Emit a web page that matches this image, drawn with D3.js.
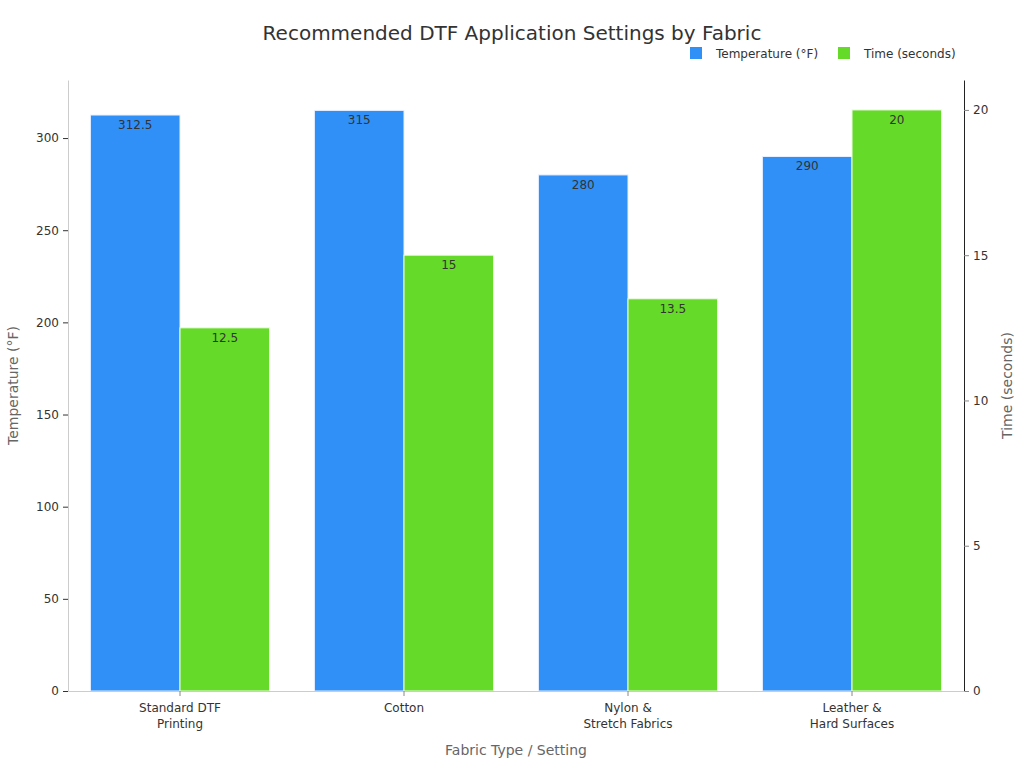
<!DOCTYPE html>
<html>
<head>
<meta charset="utf-8">
<title>Recommended DTF Application Settings by Fabric</title>
<script src="https://cdnjs.cloudflare.com/ajax/libs/d3/7.8.5/d3.min.js"></script>
<style>
  body { margin: 0; background: #fff; font-family: "DejaVu Sans", sans-serif; }
</style>
</head>
<body>
<div class="chart"></div>
<script>
var categories = [["Standard DTF", "Printing"], ["Cotton"], ["Nylon &", "Stretch Fabrics"], ["Leather &", "Hard Surfaces"]];
var temperature = [312.5, 315, 280, 290];
var timeSec = [12.5, 15, 13.5, 20];
var tempTicks = [0, 50, 100, 150, 200, 250, 300];
var timeTicks = [0, 5, 10, 15, 20];

var W = 1024, H = 768;
var mLeft = 68, mRight = 964, mTop = 80, mBottom = 691;
var blue = "#3090f8", green = "#66da28";

var svg = d3.select(".chart").append("svg").attr("width", W).attr("height", H);

var x0 = d3.scaleBand().domain(d3.range(categories.length)).range([mLeft, mRight])
  .paddingInner(0.2).paddingOuter(0.1);
var x1 = d3.scaleBand().domain([0, 1]).range([0, x0.bandwidth()]);
var yL = d3.scaleLinear().domain([0, 331.5]).range([mBottom, mTop]);
var yR = d3.scaleLinear().domain([0, 21.03]).range([mBottom, mTop]);

// bars
var groups = svg.selectAll(".grp").data(categories).enter().append("g")
  .attr("transform", function(d, i){ return "translate(" + x0(i) + ",0)"; });

groups.append("rect")
  .attr("x", x1(0)).attr("width", x1.bandwidth())
  .attr("y", function(d, i){ return yL(temperature[i]); })
  .attr("height", function(d, i){ return mBottom - yL(temperature[i]); })
  .attr("fill", blue).attr("stroke", "#e8f0ff").attr("stroke-width", 1);

groups.append("rect")
  .attr("x", x1(1)).attr("width", x1.bandwidth())
  .attr("y", function(d, i){ return yR(timeSec[i]); })
  .attr("height", function(d, i){ return mBottom - yR(timeSec[i]); })
  .attr("fill", green).attr("stroke", "#eefae6").attr("stroke-width", 1);

groups.append("text")
  .attr("x", x1(0) + x1.bandwidth() / 2)
  .attr("y", function(d, i){ return yL(temperature[i]) + 14; })
  .attr("text-anchor", "middle").attr("font-size", 12).attr("fill", "#333")
  .text(function(d, i){ return temperature[i]; });

groups.append("text")
  .attr("x", x1(1) + x1.bandwidth() / 2)
  .attr("y", function(d, i){ return yR(timeSec[i]) + 14; })
  .attr("text-anchor", "middle").attr("font-size", 12).attr("fill", "#333")
  .text(function(d, i){ return timeSec[i]; });

// axes
var axL = svg.append("g").attr("transform", "translate(" + mLeft + ",0)")
  .call(d3.axisLeft(yL).tickValues(tempTicks).tickSize(5).tickSizeOuter(0).tickPadding(4));
axL.select(".domain").attr("stroke", "#ccc");
axL.selectAll(".tick line").attr("stroke", "#333");
axL.selectAll(".tick text").attr("font-size", 12).attr("fill", "#333").attr("font-family", "DejaVu Sans");

var axR = svg.append("g").attr("transform", "translate(" + mRight + ",0)")
  .call(d3.axisRight(yR).tickValues(timeTicks).tickSize(5).tickSizeOuter(0).tickPadding(4));
axR.select(".domain").attr("stroke", "#222");
axR.selectAll(".tick line").attr("stroke", "#888");
axR.selectAll(".tick text").attr("font-size", 12).attr("fill", "#333").attr("font-family", "DejaVu Sans");

var axB = svg.append("g").attr("transform", "translate(0," + mBottom + ")")
  .call(d3.axisBottom(x0).tickSize(5).tickSizeOuter(0).tickFormat(""));
axB.select(".domain").attr("stroke", "#ccc");
axB.selectAll(".tick line").attr("stroke", "#888");
axB.selectAll(".tick").each(function(d){
  var t = d3.select(this).append("text").attr("text-anchor", "middle")
    .attr("font-size", 12).attr("fill", "#333").attr("font-family", "DejaVu Sans");
  categories[d].forEach(function(line, k){
    t.append("tspan").attr("x", 0).attr("y", 21 + k * 16).text(line);
  });
});

// titles
svg.append("text").attr("x", 512).attr("y", 40).attr("text-anchor", "middle")
  .attr("font-size", 20).attr("fill", "#333").text("Recommended DTF Application Settings by Fabric");

svg.append("text").attr("x", 516).attr("y", 755).attr("text-anchor", "middle")
  .attr("font-size", 14).attr("fill", "#666").text("Fabric Type / Setting");

svg.append("text").attr("transform", "translate(18," + ((mTop + mBottom) / 2) + ") rotate(-90)")
  .attr("text-anchor", "middle").attr("font-size", 14).attr("fill", "#666").text("Temperature (°F)");

svg.append("text").attr("transform", "translate(1012," + ((mTop + mBottom) / 2) + ") rotate(-90)")
  .attr("text-anchor", "middle").attr("font-size", 14).attr("fill", "#666").text("Time (seconds)");

// legend
var legend = [["Temperature (°F)", blue, 690], ["Time (seconds)", green, 838]];
legend.forEach(function(l){
  svg.append("rect").attr("x", l[2]).attr("y", 47).attr("width", 12).attr("height", 12).attr("fill", l[1]);
  svg.append("text").attr("x", l[2] + 26).attr("y", 58).attr("font-size", 12).attr("fill", "#333").text(l[0]);
});
</script>
</body>
</html>
